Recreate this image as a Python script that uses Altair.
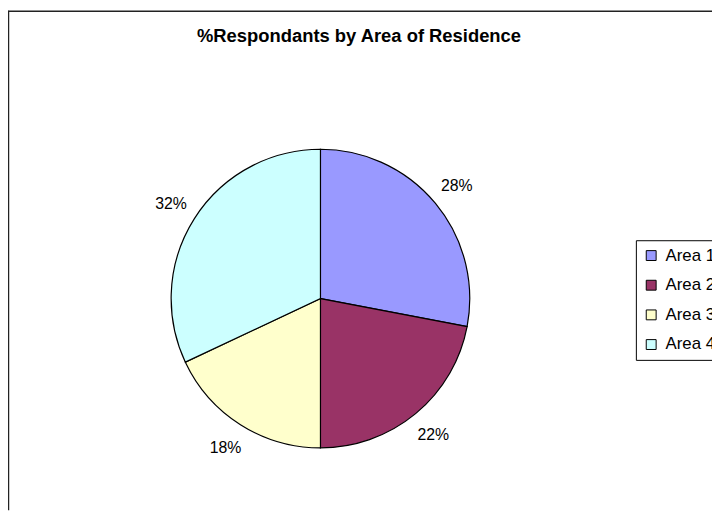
import altair as alt
import pandas as pd

categories = ["Area 1", "Area 2", "Area 3", "Area 4"]
values = [28, 22, 18, 32]
labels = ["28%", "22%", "18%", "32%"]
colors = ["#9999FF", "#993366", "#FFFFCC", "#CCFFFF"]
title_text = "%Respondants by Area of Residence"

df = pd.DataFrame({
    "area": categories,
    "value": values,
    "label": labels,
    "idx": list(range(len(categories))),
})

W, H = 712, 505
CX, CY = 316, 291
FONT = "Liberation Sans"

base = alt.Chart(df)

pie = base.mark_arc(outerRadius=151, stroke="black", strokeWidth=1.2).encode(
    theta=alt.Theta("value:Q", stack=True),
    order=alt.Order("idx:Q"),
    color=alt.Color(
        "area:N",
        scale=alt.Scale(domain=categories, range=colors),
        legend=alt.Legend(
            title=None,
            orient="none",
            legendX=635,
            legendY=232,
            fillColor="white",
            strokeColor="black",
            padding=7,
            symbolType="square",
            symbolSize=100,
            symbolStrokeColor="black",
            symbolStrokeWidth=1,
            symbolOpacity=1,
            labelFont=FONT,
            labelFontSize=17,
            labelColor="black",
            labelOffset=6,
            rowPadding=12,
        ),
    ),
    x=alt.value(CX),
    y=alt.value(CY),
)

text = base.mark_text(
    radius=179, font=FONT, fontSize=16, color="black", align="center", baseline="middle"
).encode(
    theta=alt.Theta("value:Q", stack=True),
    order=alt.Order("idx:Q"),
    text="label:N",
    x=alt.value(CX),
    y=alt.value(CY),
)

title_df = pd.DataFrame({"t": [title_text]})
title = alt.Chart(title_df).mark_text(
    font=FONT, fontSize=18.6, fontWeight="bold", color="black", align="center", baseline="middle"
).encode(text="t:N", x=alt.value(355), y=alt.value(26))

frame_left = alt.Chart(title_df).mark_rule(color="#222222", strokeWidth=1.5).encode(
    x=alt.value(0.5), y=alt.value(0), y2=alt.value(H)
)
frame_top = alt.Chart(title_df).mark_rule(color="#222222", strokeWidth=1.5).encode(
    x=alt.value(0), x2=alt.value(W), y=alt.value(0.5)
)

chart = alt.layer(pie, text, title, frame_left, frame_top).properties(
    width=W,
    height=H,
    autosize=alt.AutoSizeParams(type="none"),
    padding=0,
    background="white",
).configure_view(stroke=None)

chart.save("out.html", embed_options={"renderer": "svg", "actions": False})
